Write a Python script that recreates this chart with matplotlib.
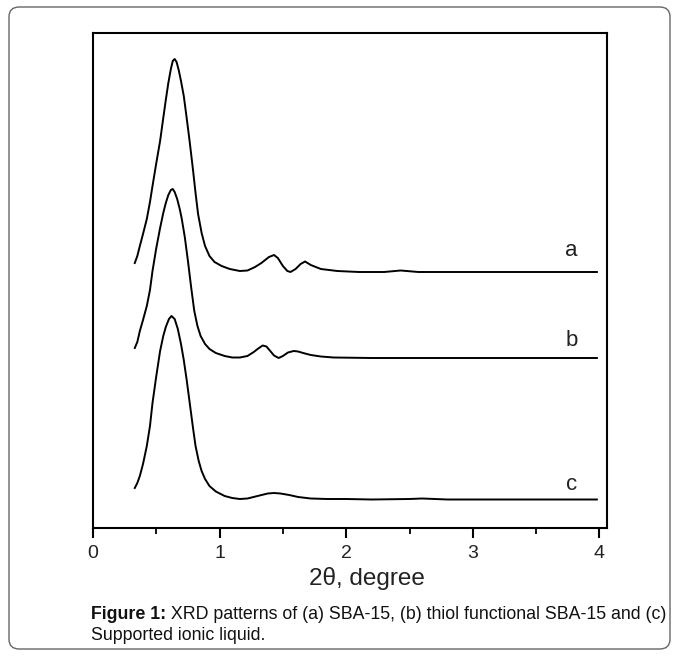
import matplotlib
matplotlib.use("Agg")
import matplotlib.pyplot as plt
from matplotlib.patches import FancyBboxPatch

plt.rcParams["font.family"] = ["Liberation Sans", "DejaVu Sans"]

# 2-theta positions (degree) and intensities (arbitrary units)
x_a = [0.33, 0.35, 0.37, 0.395, 0.425, 0.45, 0.47, 0.50, 0.53, 0.555, 0.575, 0.595,
       0.615, 0.63, 0.645, 0.66, 0.677, 0.695, 0.717, 0.74, 0.764, 0.79, 0.81, 0.83,
       0.858, 0.885, 0.92, 0.96, 1.016, 1.08, 1.16, 1.22, 1.28, 1.33, 1.39, 1.43,
       1.46, 1.50, 1.535, 1.56, 1.60, 1.64, 1.675, 1.72, 1.80, 1.93, 2.10, 2.30,
       2.43, 2.57, 2.75, 3.98]
y_a = [265, 272, 282, 294, 309, 326, 342, 365, 387, 410, 428, 445,
       459, 467, 469, 466, 458, 447, 432, 410, 386, 358, 335, 314,
       295, 282, 272, 266, 262, 259, 257, 257.5, 261, 265, 271, 273,
       270, 262, 257, 256, 259, 264, 266.5, 263, 259, 257, 256, 256,
       257.5, 256, 256, 256]

x_b = [0.33, 0.35, 0.37, 0.395, 0.425, 0.45, 0.47, 0.50, 0.53, 0.555, 0.575, 0.595,
       0.615, 0.63, 0.645, 0.665, 0.685, 0.70, 0.725, 0.75, 0.775, 0.80, 0.825, 0.85,
       0.885, 0.92, 0.97, 1.04, 1.10, 1.16, 1.22, 1.27, 1.30, 1.34, 1.37, 1.40, 1.43,
       1.466, 1.50, 1.54, 1.585, 1.62, 1.66, 1.72, 1.80, 1.90, 2.20, 3.98]
y_b = [180, 186, 197, 208, 222, 238, 257, 280, 300, 315, 325, 333,
       338, 339, 336, 329, 319, 310, 291, 267, 241, 217, 202, 192,
       184, 179, 175, 172, 170.5, 170.5, 172, 176, 179, 182.5, 181.5, 177, 172.5,
       170, 172, 175.5, 177, 176.5, 175, 173, 171.5, 170.5, 170, 170]

x_c = [0.33, 0.35, 0.37, 0.395, 0.425, 0.45, 0.47, 0.50, 0.53, 0.555, 0.575, 0.60,
       0.62, 0.645, 0.67, 0.695, 0.717, 0.74, 0.764, 0.79, 0.81, 0.835, 0.858, 0.885,
       0.92, 0.97, 1.04, 1.10, 1.16, 1.22, 1.30, 1.38, 1.43, 1.48, 1.55, 1.62, 1.72,
       1.85, 2.0, 2.2, 2.5, 2.6, 2.8, 3.98]
y_c = [40, 45, 52, 64, 82, 102, 125, 152, 177, 192, 201, 209,
       212, 209, 199, 184, 168, 148, 125, 100, 82, 67, 57, 49,
       42, 36.5, 32, 30, 29, 29.5, 32, 34.5, 35, 34.5, 33, 31, 29.5,
       29, 29, 28.5, 29, 29.5, 28.5, 28.5]

labels = ["a", "b", "c"]
label_x = 3.78
label_y = [277, 187, 43]

xticks = [0, 1, 2, 3, 4]

fig = plt.figure(figsize=(6.78, 6.57), dpi=100)

# outer rounded frame
frame = FancyBboxPatch((9 / 678, 8 / 657), 661 / 678, 642 / 657,
                       boxstyle="round,pad=0,rounding_size=0.015",
                       transform=fig.transFigure, fill=False,
                       edgecolor="#666666", linewidth=1.0)
fig.patches.append(frame)

ax = fig.add_axes([93 / 678, (657 - 528) / 657, (607 - 93) / 678, (528 - 33) / 657])
for xs, ys in [(x_a, y_a), (x_b, y_b), (x_c, y_c)]:
    ax.plot(xs, ys, color="black", lw=1.4, solid_joinstyle="round")

for lab, ly in zip(labels, label_y):
    ax.text(label_x, ly, lab, fontsize=16, ha="center", va="center", color="#222222")

ax.set_xlim(0, 4.06)
ax.set_ylim(0, 495)
ax.set_xticks(xticks)
ax.set_xticks([0.5, 1.5, 2.5, 3.5], minor=True)
ax.set_xticklabels([str(t) for t in xticks], fontsize=14, color="#222222")
ax.set_yticks([])
ax.tick_params(axis="x", which="major", direction="out", length=7, width=1.5, pad=5)
ax.tick_params(axis="x", which="minor", direction="out", length=4, width=1.3)
for s in ax.spines.values():
    s.set_linewidth(1.5)

fig.text(367 / 678, 1 - 578 / 657, "2θ, degree", fontsize=17.5, ha="center", va="center",
         color="#222222")

# caption: bold lead-in followed by normal text
cap = fig.text(91 / 678, 1 - 619 / 657, "Figure 1:", fontsize=12.75, fontweight="bold",
               ha="left", va="baseline", color="#111111")
ax.annotate(" XRD patterns of (a) SBA-15, (b) thiol functional SBA-15 and (c)",
            xy=(1, 0), xycoords=cap, ha="left", va="bottom", fontsize=12.75,
            color="#111111", annotation_clip=False)
fig.text(91 / 678, 1 - 640 / 657, "Supported ionic liquid.", fontsize=12.75,
         ha="left", va="baseline", color="#111111")

fig.savefig("out.png", dpi=100)
